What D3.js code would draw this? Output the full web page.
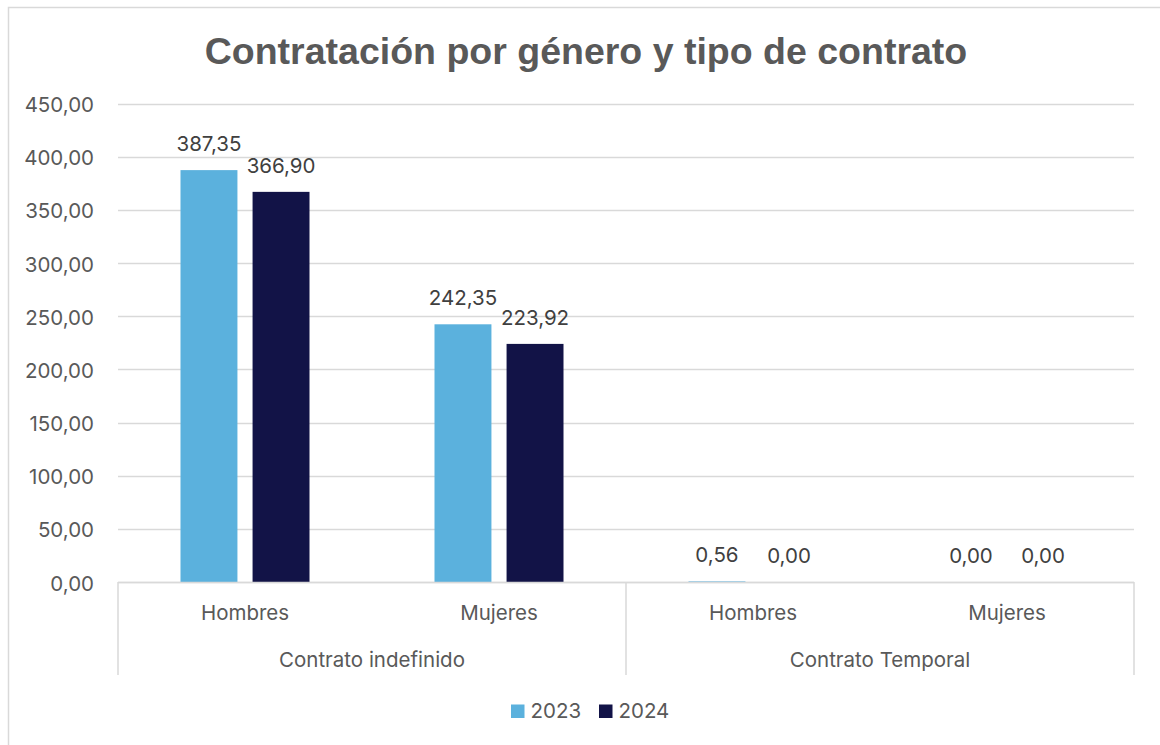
<!DOCTYPE html>
<html><head><meta charset="utf-8">
<script src="https://cdn.jsdelivr.net/npm/d3@7"></script>
<style>body{margin:0;background:#fff;}svg{display:block;}</style>
</head><body><svg id="c" width="1160" height="745"></svg>
<script>
const title = "Contratación por género y tipo de contrato";
const groups = ["Contrato indefinido", "Contrato Temporal"];
const categories = ["Hombres", "Mujeres", "Hombres", "Mujeres"];
const categoryGroup = [0, 0, 1, 1];
const seriesNames = ["2023", "2024"];
const values2023 = [387.35, 242.35, 0.56, 0.00];
const values2024 = [366.90, 223.92, 0.00, 0.00];
const yTicks = [0, 50, 100, 150, 200, 250, 300, 350, 400, 450];
const colors = ["#5BB1DD", "#121347"];

(function () {
const svg = d3.select("#c");
const fmt = v => d3.format(".2f")(v).replace(".", ",");
const fontUI = "Inter, 'Open Sans', sans-serif";
const fs = 20.5;

svg.append("rect").attr("x", 8.5).attr("y", 7.5).attr("width", 1170).attr("height", 760)
  .attr("fill", "#fff").attr("stroke", "#d9d9d9").attr("stroke-width", 1.5);

svg.append("text").attr("x", 586).attr("y", 64).attr("text-anchor", "middle")
  .attr("font-family", "'Liberation Sans', Arial, sans-serif").attr("font-weight", "bold")
  .attr("font-size", 37.5).attr("fill", "#595959").text(title);

const pLeft = 118, pRight = 1134, pTop = 103.5, pBottom = 582;
const y = d3.scaleLinear().domain([0, 450]).range([pBottom, pTop]);
const x = d3.scaleBand().domain(d3.range(categories.length)).range([pLeft, pRight]).paddingInner(0).paddingOuter(0);
const xs = d3.scaleBand().domain([0, 1]).range([0, 129]).paddingInner(0.21);

svg.append("g").selectAll("line").data(yTicks).join("line")
  .attr("x1", pLeft).attr("x2", pRight).attr("y1", d => Math.round(y(d)) + 0.5).attr("y2", d => Math.round(y(d)) + 0.5)
  .attr("stroke", "#d9d9d9").attr("stroke-width", 1.5);

svg.append("g").selectAll("text").data(yTicks).join("text")
  .attr("x", 94).attr("y", d => y(d) + 8.5).attr("text-anchor", "end")
  .attr("font-family", fontUI).attr("font-size", fs).attr("fill", "#595959").text(fmt);

const series = [values2023, values2024];
series.forEach((vals, s) => {
  const g = svg.append("g");
  g.selectAll("rect").data(vals).join("rect")
    .attr("x", (d, i) => x(i) + (x.bandwidth() - 129) / 2 + xs(s))
    .attr("width", xs.bandwidth())
    .attr("y", d => y(d)).attr("height", d => pBottom - y(d))
    .attr("fill", colors[s]);
  g.selectAll("text").data(vals).join("text")
    .attr("x", (d, i) => x(i) + (x.bandwidth() - 129) / 2 + xs(s) + xs.bandwidth() / 2)
    .attr("y", d => y(d) - 19)
    .attr("text-anchor", "middle").attr("font-family", fontUI).attr("font-size", fs)
    .attr("fill", "#404040").text(fmt);
});

const ax = svg.append("g").attr("stroke", "#d9d9d9").attr("stroke-width", 1.5);
ax.append("line").attr("x1", pLeft).attr("x2", pRight).attr("y1", pBottom + 0.5).attr("y2", pBottom + 0.5);
const sepX = [pLeft, x(2), pRight];
ax.selectAll("line.sep").data(sepX).join("line").attr("class", "sep")
  .attr("x1", d => d).attr("x2", d => d).attr("y1", pBottom).attr("y2", 675);

svg.append("g").selectAll("text").data(categories).join("text")
  .attr("x", (d, i) => x(i) + x.bandwidth() / 2).attr("y", 620).attr("text-anchor", "middle")
  .attr("font-family", fontUI).attr("font-size", fs).attr("fill", "#595959").text(d => d);

svg.append("g").selectAll("text").data(groups).join("text")
  .attr("x", (d, gi) => {
    const idx = categoryGroup.map((g, i) => g === gi ? i : -1).filter(i => i >= 0);
    return (x(idx[0]) + x(idx[idx.length - 1]) + x.bandwidth()) / 2;
  })
  .attr("y", 667).attr("text-anchor", "middle")
  .attr("font-family", fontUI).attr("font-size", fs).attr("fill", "#595959").text(d => d);

const legX = [511, 599];
const lg = svg.append("g");
seriesNames.forEach((n, i) => {
  lg.append("rect").attr("x", legX[i]).attr("y", 704.5).attr("width", 13.5).attr("height", 13.5).attr("fill", colors[i]);
  lg.append("text").attr("x", legX[i] + 19.5).attr("y", 718).attr("font-family", fontUI)
    .attr("font-size", fs).attr("fill", "#595959").text(n);
});
})();
</script></body></html>
